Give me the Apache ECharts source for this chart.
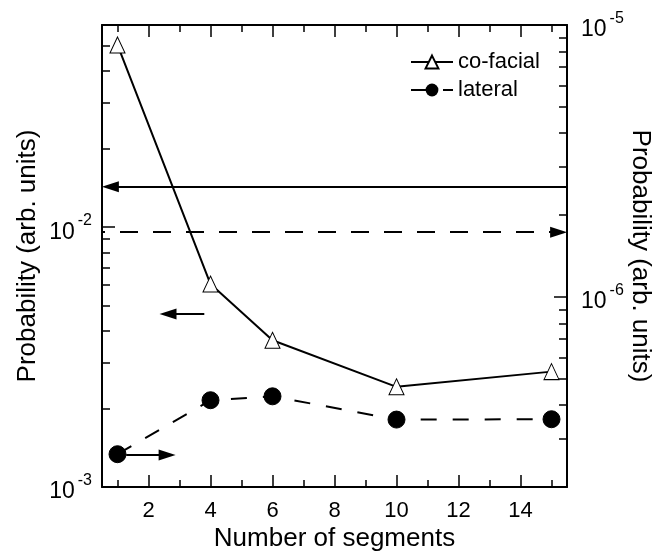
<!DOCTYPE html>
<html><head><meta charset="utf-8">
<script src="https://cdn.jsdelivr.net/npm/echarts@6/dist/echarts.min.js"></script>
<style>html,body{margin:0;padding:0;background:#fff}#c{width:656px;height:558px}</style>
</head><body><div id="c"></div>
<script>
// ---- data ----
const segments = [1, 4, 6, 10, 15];
const cofacial = [0.0503, 0.00604, 0.00367, 0.00243, 0.00278];
const lateral = [2.64e-7, 4.17e-7, 4.31e-7, 3.54e-7, 3.55e-7];

const xLabelValues = [2, 4, 6, 8, 10, 12, 14];
const xMinorValues = [1, 3, 5, 7, 9, 11, 13, 15];
const leftMajor = [0.001, 0.01];
const leftMinor = [0.002, 0.003, 0.004, 0.005, 0.006, 0.007, 0.008, 0.009, 0.02, 0.03, 0.04, 0.05, 0.06];
const rightMajor = [1e-6, 1e-5];
const rightMinor = [3e-7, 4e-7, 5e-7, 6e-7, 7e-7, 8e-7, 9e-7, 2e-6, 3e-6, 4e-6, 5e-6, 6e-6, 7e-6, 8e-6, 9e-6];

// arrow lines: x-extent (arrowhead centre end) and level
const cofacialLongArrowX = [0.77, 15.5];
const cofacialLongArrowY = 0.0143;
const cofacialShortArrowX = [2.63, 3.80];
const cofacialShortArrowY = 0.00463;
const lateralLongArrowX = [0.5, 15.23];
const lateralLongArrowY = 1.73e-6;
const lateralShortArrowX = [1.28, 2.6];
const lateralShortArrowY = 2.62e-7;

const FONT = "'Liberation Sans', Arial, sans-serif";
const BLACK = '#000';

function supLabel(v) {
  const e = Math.round(Math.log10(v));
  return '{b|10}{s|' + e + '}';
}
const supRich = {
  b: { fontSize: 23, fontFamily: FONT, color: BLACK, lineHeight: 23, padding: [10, 0, 0, 0] },
  s: { fontSize: 16, fontFamily: FONT, color: BLACK, lineHeight: 16, padding: [2, 0, 15, 3] }
};

const tickStyle = { color: BLACK, width: 1.5 };
const lineAxis = { show: true, onZero: false, lineStyle: { color: BLACK, width: 2 } };
const noLine = { show: false };

function xAx(pos, ticks, len, withLine, labels) {
  return {
    type: 'value', position: pos, min: 0.5, max: 15.5,
    axisLine: withLine ? lineAxis : noLine,
    axisTick: { show: true, inside: true, length: len, lineStyle: tickStyle, customValues: ticks },
    axisLabel: labels ? { show: true, customValues: labels, fontSize: 22, fontFamily: FONT, color: BLACK, margin: 13 } : { show: false },
    splitLine: { show: false }
  };
}
function yAx(pos, min, max, ticks, len, withLine, labels, margin) {
  return {
    type: 'log', logBase: 10, position: pos, min: min, max: max,
    axisLine: withLine ? lineAxis : noLine,
    axisTick: { show: true, inside: true, length: len, lineStyle: tickStyle, customValues: ticks },
    axisLabel: labels ? { show: true, customValues: labels, formatter: supLabel, rich: supRich, fontSize: 23, fontFamily: FONT, color: BLACK, margin: margin } : { show: false },
    splitLine: { show: false }, minorTick: { show: false }
  };
}

const xAxes = [
  Object.assign(xAx('bottom', xLabelValues, 12, true, xLabelValues), {
    name: 'Number of segments', nameLocation: 'middle', nameGap: 39, nameMoveOverlap: false,
    nameTextStyle: { fontSize: 26, fontFamily: FONT, color: BLACK }
  }),
  xAx('top', xLabelValues, 12, true, null),
  xAx('bottom', xMinorValues, 7, false, null),
  xAx('top', xMinorValues, 7, false, null)
];
const yAxes = [
  Object.assign(yAx('left', 0.001, 0.06, leftMajor, 13, true, leftMajor, 10), {
    name: 'Probability (arb. units)', nameLocation: 'middle', nameGap: 61, nameMoveOverlap: false,
    nameTextStyle: { fontSize: 26, fontFamily: FONT, color: BLACK }
  }),
  Object.assign(yAx('right', 2e-7, 1e-5, rightMajor, 13, true, rightMajor, 14), {
    name: 'Probability (arb. units)', nameLocation: 'middle', nameGap: 60, nameRotate: -90, nameMoveOverlap: false,
    nameTextStyle: { fontSize: 26, fontFamily: FONT, color: BLACK }
  }),
  yAx('left', 0.001, 0.06, leftMinor, 8, false, null),
  yAx('right', 2e-7, 1e-5, rightMinor, 8, false, null)
];

const arrowSize = [11, 17];
const option = {
  animation: false,
  backgroundColor: '#fff',
  grid: { left: 102, right: 89, top: 25, bottom: 71, containLabel: false, outerBoundsMode: 'none' },
  xAxis: xAxes,
  yAxis: yAxes,
  legend: {
    orient: 'vertical', left: 405, top: 46, itemWidth: 42, itemHeight: 16, itemGap: 6,
    textStyle: { fontSize: 22, fontFamily: FONT, color: BLACK },
    data: ['co-facial', 'lateral']
  },
  series: [
    {
      name: 'co-facial', type: 'line', xAxisIndex: 0, yAxisIndex: 0,
      data: segments.map((x, i) => [x, cofacial[i]]),
      symbol: 'triangle', symbolSize: [15, 16], z: 5,
      itemStyle: { color: '#fff', borderColor: BLACK, borderWidth: 1 },
      lineStyle: { color: BLACK, width: 2 },
      markLine: {
        silent: true, symbol: ['triangle', 'none'], symbolSize: arrowSize,
        label: { show: false }, emphasis: { disabled: true },
        itemStyle: { color: BLACK },
        lineStyle: { color: BLACK, width: 2, type: 'solid' },
        data: [
          [{ coord: [cofacialLongArrowX[0], cofacialLongArrowY] }, { coord: [cofacialLongArrowX[1], cofacialLongArrowY] }],
          [{ coord: [cofacialShortArrowX[0], cofacialShortArrowY] }, { coord: [cofacialShortArrowX[1], cofacialShortArrowY] }]
        ]
      }
    },
    {
      name: 'lateral', type: 'line', xAxisIndex: 0, yAxisIndex: 1,
      data: segments.map((x, i) => [x, lateral[i]]),
      symbol: 'circle', symbolSize: 17, z: 5,
      itemStyle: { color: BLACK, borderColor: BLACK },
      lineStyle: { color: BLACK, width: 2, type: [16, 16] },
      markLine: {
        silent: true, symbol: ['none', 'triangle'], symbolSize: arrowSize,
        label: { show: false }, emphasis: { disabled: true },
        itemStyle: { color: BLACK },
        lineStyle: { color: BLACK, width: 2, type: 'solid' },
        data: [
          [{ coord: [lateralLongArrowX[0], lateralLongArrowY], lineStyle: { type: [18, 15], dashOffset: 15, color: BLACK, width: 2 } }, { coord: [lateralLongArrowX[1], lateralLongArrowY] }],
          [{ coord: [lateralShortArrowX[0], lateralShortArrowY] }, { coord: [lateralShortArrowX[1], lateralShortArrowY] }]
        ]
      }
    }
  ]
};
const chart = echarts.init(document.getElementById('c'), null, { renderer: 'canvas' });
chart.setOption(option);
</script>
</body></html>
